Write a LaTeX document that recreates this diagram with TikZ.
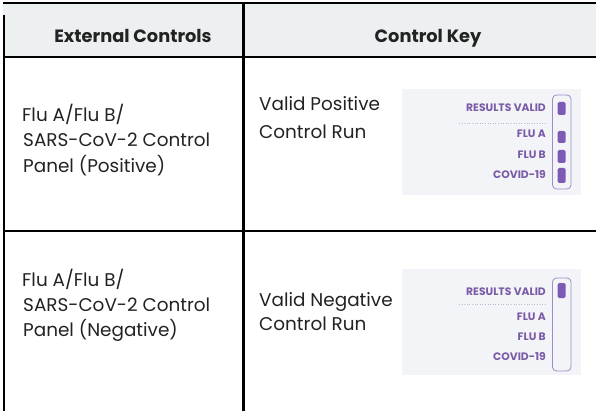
\documentclass[tikz,border=0pt]{standalone}
\usepackage{fontspec}
\setmainfont{Poppins}
\definecolor{hdrbg}{HTML}{EDF0F0}
\definecolor{panelbg}{HTML}{F3F4F7}
\definecolor{keytext}{HTML}{7A5BA8}
\definecolor{keybar}{HTML}{7D5AB6}
\definecolor{keyline}{HTML}{9E8CC9}
\definecolor{dotline}{HTML}{BDB5D0}
\definecolor{bodytext}{HTML}{222222}
\tikzset{
  rule/.style={line width=2.6pt, black},
  hdr/.style={inner sep=0pt, anchor=base, text=bodytext, font=\fontsize{17.8}{21}\selectfont\bfseries},
  body/.style={inner sep=0pt, anchor=base west, text=bodytext, font=\fontsize{18.4}{22}\selectfont},
  keylbl/.style={inner sep=0pt, anchor=base east, text=keytext, font=\fontsize{10.8}{13}\selectfont\bfseries},
  keybg/.style={fill=panelbg, draw=none},
  keyframe/.style={draw=keyline, line width=0.8pt, rounded corners=4pt},
  keybarfill/.style={fill=keybar, rounded corners=1.5pt},
  dotsep/.style={draw=dotline, line width=0.6pt, dotted}
}
\begin{document}
\begin{tikzpicture}[x=1pt,y=-1pt]
\useasboundingbox (0,0) rectangle (596,411);
% header background
\fill[hdrbg] (3,4) rectangle (596,57);
% table rules
\draw[line width=2pt] (2.5,3.5) -- (596,3.5);
\draw[rule] (4,15) -- (4,411);
\draw[rule] (2.7,57) -- (596,57);
\draw[rule] (243.5,3.5) -- (243.5,411);
\draw[rule] (2.7,231) -- (596,231);
% header texts
\node[hdr] (h1) at (133,43) {External Controls};
\node[hdr] (h2) at (428,43) {Control Key};
% row 1 left
\node[body] (r1a) at (22,121.5) {Flu A/Flu B/};
\node[body] (r1b) at (23,147) {SARS-CoV-2 Control};
\node[body] (r1c) at (23,172.5) {Panel (Positive)};
% row 2 left
\node[body] (r2a) at (22,286) {Flu A/Flu B/};
\node[body] (r2b) at (23,311.5) {SARS-CoV-2 Control};
\node[body] (r2c) at (23,336.5) {Panel (Negative)};
% row 1 right
\node[body] (k1a) at (259,111) {Valid Positive};
\node[body] (k1b) at (259,139) {Control Run};
% row 2 right
\node[body] (k2a) at (259,306) {Valid Negative};
\node[body] (k2b) at (259,330) {Control Run};
% key panel 1
\fill[keybg] (402,89) rectangle (581,195);
\node[keylbl] (p1rv) at (546,112) {RESULTS VALID};
\draw[dotsep] (459,123) -- (546,123);
\node[keylbl] (p1fa) at (546,138) {FLU A};
\node[keylbl] (p1fb) at (546,159) {FLU B};
\node[keylbl] (p1cv) at (546,179) {COVID-19};
\draw[keyframe] (552.5,95) rectangle (571,189);
\fill[keybarfill] (557.5,102) rectangle (565.5,115);
\fill[keybarfill] (557.5,131) rectangle (565.5,143);
\fill[keybarfill] (557.5,150) rectangle (565.5,163);
\fill[keybarfill] (557.5,168) rectangle (565.5,183);
% key panel 2
\fill[keybg] (402,269) rectangle (581,375);
\node[keylbl] (p2rv) at (546,295) {RESULTS VALID};
\draw[dotsep] (459,304) -- (546,304);
\node[keylbl] (p2fa) at (546,320) {FLU A};
\node[keylbl] (p2fb) at (546,340.5) {FLU B};
\node[keylbl] (p2cv) at (546,360.5) {COVID-19};
\draw[keyframe] (552.5,278) rectangle (571,371);
\fill[keybarfill] (557.5,283) rectangle (565.5,298);
\end{tikzpicture}
\end{document}
